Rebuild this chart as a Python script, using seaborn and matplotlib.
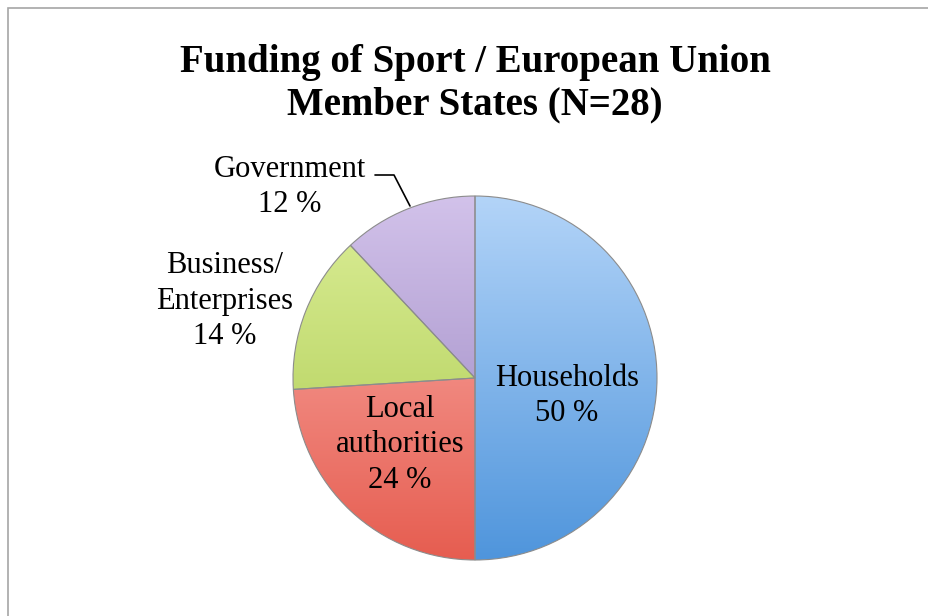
import matplotlib.pyplot as plt
import matplotlib.patches as mpatches
from matplotlib.colors import LinearSegmentedColormap
import seaborn as sns
import numpy as np

sns.set_theme(style="white")
plt.rcParams["font.family"] = ["Liberation Serif", "DejaVu Serif"]
plt.rcParams["text.color"] = "black"

# data
labels = ["Households", "Local authorities", "Business/ Enterprises", "Government"]
values = [50, 24, 14, 12]
# light (top) -> dark (bottom) for each slice
colors_top = ["#b3d4f8", "#fbb3ae", "#dcee98", "#d2c2ea"]
colors_bot = ["#4f95dc", "#e65d50", "#a9c94c", "#9580bd"]

fig = plt.figure(figsize=(9.29, 6.16), dpi=100)
ax = fig.add_axes([0, 0, 1, 1])
W, H = 929, 616
cx, cy, r = 475, H - 378, 182

wedges, _ = ax.pie(values, startangle=90, counterclock=False,
                   center=(cx, cy), radius=r,
                   wedgeprops=dict(facecolor="none", edgecolor="#8c8c8c", linewidth=0.8))

grad = np.linspace(0, 1, 256).reshape(-1, 1)
for w, ct, cb in zip(wedges, colors_top, colors_bot):
    cmap = LinearSegmentedColormap.from_list("g", [ct, cb])
    im = ax.imshow(grad, cmap=cmap, extent=[cx - r, cx + r, cy - r, cy + r],
                   origin="upper", aspect="auto", zorder=0.5)
    im.set_clip_path(w)

ax.set_xlim(0, W)
ax.set_ylim(0, H)
ax.set_aspect("equal")
ax.axis("off")

fs = 22
ls = 1.3
def px(y):
    return H - y

ax.text(567, px(396), "Households\n50 %", ha="center", va="center", fontsize=fs, linespacing=ls)
ax.text(400, px(445), "Local\nauthorities\n24 %", ha="center", va="center", fontsize=fs, linespacing=ls)
ax.text(225, px(301), "Business/\nEnterprises\n14 %", ha="center", va="center", fontsize=fs, linespacing=ls)
ax.text(290, px(187), "Government\n12 %", ha="center", va="center", fontsize=fs, linespacing=ls)

# leader line for Government
ax.plot([375, 394, 410], [px(175), px(175), px(206)], color="black", linewidth=1.2)

ax.text(475, px(84), "Funding of Sport / European Union\nMember States (N=28)",
        ha="center", va="center", fontsize=28, fontweight="bold", linespacing=1.2)

# chart frame
fig.patches.append(mpatches.Rectangle((8 / W, -0.1), 1.2, 1 - 8 / H + 0.1,
                                      transform=fig.transFigure, fill=False,
                                      edgecolor="#a6a6a6", linewidth=1.2))

fig.savefig("out.png", dpi=100)
